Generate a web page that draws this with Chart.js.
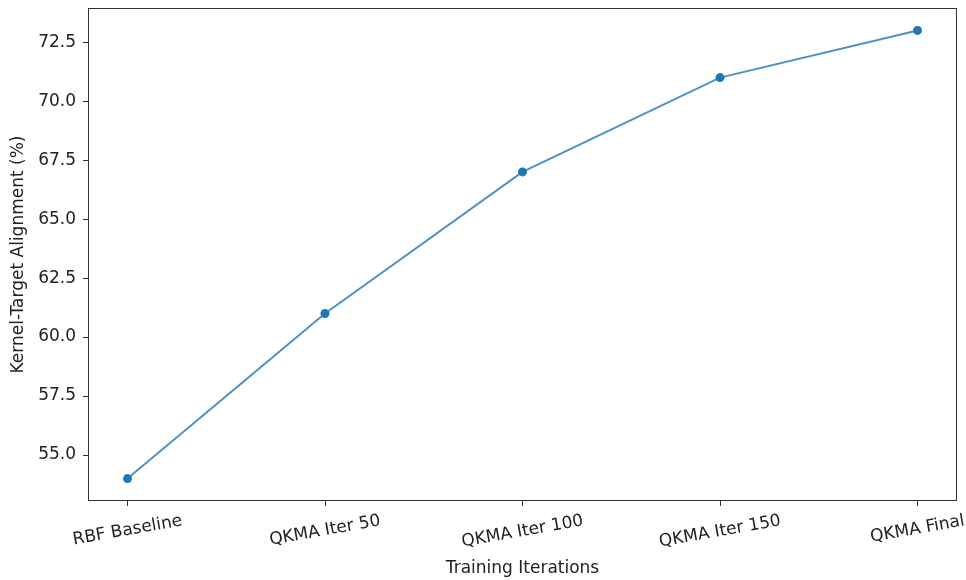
<!DOCTYPE html>
<html>
<head>
<meta charset="utf-8">
<script src="https://cdn.jsdelivr.net/npm/chart.js@4.4.1/dist/chart.umd.min.js"></script>
<style>
  html, body { margin: 0; padding: 0; background: #fff; }
  #wrap { width: 966px; height: 580px; }
</style>
</head>
<body>
<div id="wrap"><canvas id="chart" width="966" height="580"></canvas></div>
<script>
// datos del gráfico
const categories = ['RBF Baseline', 'QKMA Iter 50', 'QKMA Iter 100', 'QKMA Iter 150', 'QKMA Final'];
const alignment = [54, 61, 67, 71, 73];
const yTicks = [55.0, 57.5, 60.0, 62.5, 65.0, 67.5, 70.0, 72.5];

const FONT = "'DejaVu Sans', sans-serif";
const FONT_SIZE = 17;
const TEXT = '#222';
const LINE_BLUE = '#1f77b4';

// marco completo alrededor del área (estilo matplotlib) + etiquetas del eje x giradas
const framePlugin = {
  id: 'frame',
  afterDraw(chart) {
    const { ctx, chartArea: a, scales } = chart;
    ctx.save();
    ctx.strokeStyle = '#333';
    ctx.lineWidth = 1;
    ctx.strokeRect(a.left + 0.5, a.top + 0.5, a.right - a.left - 1, a.bottom - a.top - 1);

    // etiquetas de categoría, centradas en cada tick y giradas 10°
    ctx.font = `${FONT_SIZE}px ${FONT}`;
    ctx.fillStyle = TEXT;
    ctx.textAlign = 'center';
    ctx.textBaseline = 'middle';
    const ang = 10 * Math.PI / 180;
    const h = 18;
    categories.forEach((label, i) => {
      const x = scales.x.getPixelForValue(i);
      const w = ctx.measureText(label).width;
      const boxH = w * Math.sin(ang) + h * Math.cos(ang);
      const cy = a.bottom + 11 + boxH / 2;
      ctx.save();
      ctx.translate(x, cy);
      ctx.rotate(-ang);
      ctx.fillText(label, 0, 0);
      ctx.restore();
    });
    ctx.restore();
  }
};

new Chart(document.getElementById('chart'), {
  type: 'line',
  data: {
    datasets: [{
      label: 'Kernel-Target Alignment',
      data: alignment.map((v, i) => ({ x: i, y: v })),
      borderColor: 'rgba(31,119,180,0.8)',
      borderWidth: 2,
      pointRadius: 4.5,
      pointHoverRadius: 4.5,
      pointBackgroundColor: LINE_BLUE,
      pointBorderColor: LINE_BLUE,
      pointBorderWidth: 0,
      tension: 0,
      fill: false
    }]
  },
  options: {
    responsive: false,
    animation: false,
    devicePixelRatio: 1,
    layout: { padding: { top: 8, right: 9, left: 0, bottom: 0 } },
    plugins: {
      legend: { display: false },
      tooltip: { enabled: false }
    },
    scales: {
      x: {
        type: 'linear',
        min: -0.2,
        max: 4.2,
        afterBuildTicks: axis => { axis.ticks = categories.map((c, i) => ({ value: i })); },
        afterFit: axis => { axis.height = 79; axis.paddingLeft = 0; axis.paddingRight = 0; },
        grid: { drawOnChartArea: false, drawTicks: true, tickLength: 5, color: '#333', lineWidth: 1 },
        border: { display: false },
        ticks: { display: false },
        title: {
          display: true,
          text: 'Training Iterations',
          color: TEXT,
          font: { family: FONT, size: FONT_SIZE },
          padding: { top: 0, bottom: 1 }
        }
      },
      y: {
        type: 'linear',
        min: 53.05,
        max: 73.95,
        afterBuildTicks: axis => { axis.ticks = yTicks.map(v => ({ value: v })); },
        afterFit: axis => { axis.width = 88; axis.paddingTop = 0; axis.paddingBottom = 0; },
        grid: { drawOnChartArea: false, drawTicks: true, tickLength: 5, color: '#333', lineWidth: 1 },
        border: { display: false },
        ticks: {
          color: TEXT,
          font: { family: FONT, size: FONT_SIZE },
          padding: 7,
          callback: v => Number(v).toFixed(1)
        },
        title: {
          display: true,
          text: 'Kernel-Target Alignment (%)',
          color: TEXT,
          font: { family: FONT, size: FONT_SIZE },
          padding: { top: 8, bottom: 4 }
        }
      }
    }
  },
  plugins: [framePlugin]
});
</script>
</body>
</html>
